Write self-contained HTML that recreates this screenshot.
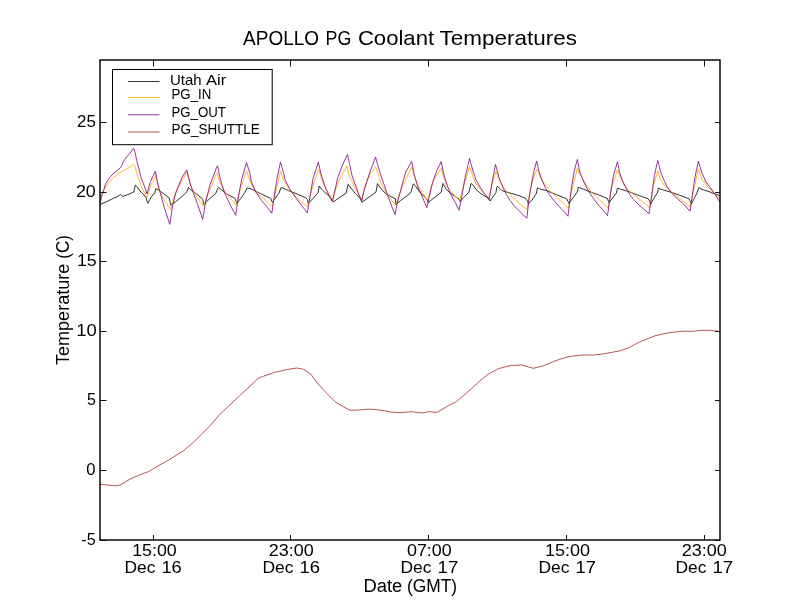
<!DOCTYPE html>
<html><head><meta charset="utf-8"><title>APOLLO PG Coolant Temperatures</title>
<style>html,body{margin:0;padding:0;background:#fff;width:800px;height:600px;overflow:hidden}</style></head>
<body><div style="will-change:transform;width:800px;height:600px">
<svg width="800" height="600" viewBox="0 0 800 600" style="display:block;font-family:'Liberation Sans',sans-serif">
<rect x="0" y="0" width="800" height="600" fill="#fff"/>
<defs><clipPath id="ax"><rect x="100" y="60" width="620" height="480"/></clipPath></defs>
<g clip-path="url(#ax)" fill="none" stroke-width="0.8" stroke-linejoin="round" stroke-linecap="butt">
<polyline stroke="#a52a2a" points="99.00,484.20 106.70,485.00 116.70,485.80 120.00,485.00 130.00,479.20 140.00,474.70 148.30,471.70 158.30,465.80 170.00,459.20 183.30,450.80 193.30,442.50 200.00,435.80 210.00,425.80 220.00,414.20 233.30,401.70 246.70,389.20 258.30,378.30 263.30,376.30 275.00,372.20 286.70,369.70 296.70,368.00 303.30,369.20 310.80,374.20 318.30,384.20 326.70,393.30 335.00,401.70 343.30,406.70 350.00,410.30 358.30,410.00 368.30,409.20 375.00,409.50 383.30,410.50 391.70,412.20 400.00,412.70 411.70,411.70 421.70,413.00 429.20,411.70 436.70,412.50 446.70,406.70 456.70,401.30 470.00,390.00 480.00,380.80 488.30,374.20 498.30,368.70 510.00,365.50 521.70,365.00 533.30,368.30 543.30,365.80 553.30,361.70 560.00,359.20 566.70,357.20 575.00,355.80 583.30,355.00 595.00,355.00 606.70,353.30 620.00,350.80 628.30,348.00 638.30,342.50 646.70,339.20 655.00,335.80 670.00,332.50 683.30,331.20 693.30,331.30 700.00,330.30 710.00,330.30 721.00,331.70"/>
<polyline stroke="#000" points="99.50,204.60 100.40,204.40 102.00,203.60 106.00,202.00 110.00,200.00 114.00,197.90 116.50,197.25 119.00,195.50 120.40,194.25 122.25,196.25 124.00,196.00 128.00,194.50 131.50,193.00 133.75,192.00 134.50,189.00 135.25,185.25 137.00,186.75 140.00,191.00 144.00,195.00 146.25,198.00 147.00,201.00 148.00,203.25 151.20,197.00 154.80,192.90 155.80,188.80 158.40,189.80 169.20,198.00 170.80,205.30 173.90,203.20 182.00,196.50 187.20,191.50 188.30,187.40 190.30,189.40 195.50,193.10 202.70,199.30 203.80,204.40 206.90,201.30 216.00,193.10 217.60,189.00 218.60,187.40 221.20,189.50 226.40,193.60 234.70,198.30 236.20,201.40 236.70,203.50 240.90,198.30 245.00,192.10 247.00,188.00 250.00,188.50 253.20,190.00 260.40,193.60 270.70,198.30 272.30,202.40 279.00,193.10 281.10,187.40 284.00,188.50 288.20,190.50 297.50,194.20 305.80,197.80 307.30,199.30 308.30,203.50 318.00,193.10 319.20,186.00 322.30,190.10 329.50,196.30 333.10,202.00 346.00,193.20 348.10,184.40 355.40,193.70 360.30,198.50 362.00,202.30 376.00,192.00 377.45,183.50 381.70,189.60 386.30,194.20 395.50,198.80 395.90,204.60 400.80,200.40 410.00,193.50 411.30,191.20 413.30,183.80 416.10,186.90 420.40,192.90 426.90,199.00 428.20,202.50 441.20,192.10 443.00,183.50 446.00,189.00 450.00,193.00 459.00,199.00 460.00,201.50 469.00,192.00 471.00,183.50 473.00,185.00 476.00,189.50 482.00,194.50 488.00,198.00 490.00,201.00 496.00,192.50 497.00,186.50 497.40,186.30 501.60,190.50 510.00,193.00 517.00,195.00 525.40,198.20 527.50,201.00 528.20,203.80 532.00,200.30 536.25,193.75 537.50,187.70 540.60,189.25 546.00,190.40 555.20,194.20 566.70,198.80 569.00,203.40 577.20,192.00 578.30,187.30 583.70,189.25 591.30,192.30 599.00,195.00 607.40,198.50 609.00,202.70 616.30,193.20 617.50,188.10 620.60,189.25 627.50,191.20 637.50,195.00 648.20,198.80 649.70,201.10 650.50,204.20 657.80,192.00 658.30,188.10 662.10,189.60 671.30,192.30 679.00,195.00 689.00,198.80 690.50,201.90 691.30,204.20 697.00,193.00 698.80,187.50 701.00,189.00 710.00,192.00 715.00,194.00 721.00,195.80"/>
<polyline stroke="#ffa500" points="99.50,205.00 100.40,202.00 101.30,197.50 103.20,192.80 104.25,189.50 107.00,185.00 110.00,181.00 113.00,177.75 117.50,174.20 121.20,171.70 126.00,169.30 130.20,166.90 133.50,164.30 134.70,165.10 138.00,177.40 142.00,188.00 145.50,195.00 147.00,197.50 151.20,184.60 155.80,175.30 158.40,188.80 163.60,199.10 170.80,209.40 173.90,197.00 182.00,180.50 187.20,171.40 190.30,184.80 195.50,195.10 203.80,206.50 207.90,194.10 212.00,184.80 216.00,174.50 217.10,173.00 220.20,182.80 224.30,191.10 230.50,198.30 236.20,205.50 239.80,191.10 246.50,170.90 250.00,180.70 252.10,185.90 258.30,194.20 265.60,200.40 272.30,206.60 275.90,191.10 280.50,170.90 284.00,180.70 286.10,184.90 292.30,193.10 299.60,200.40 307.80,207.10 310.90,193.10 314.50,181.00 318.60,169.50 322.30,180.80 327.40,191.20 332.60,200.50 336.70,186.00 340.90,176.70 347.00,166.00 349.25,176.00 357.50,192.80 361.80,199.50 365.00,186.00 370.00,174.00 375.50,167.00 377.45,172.00 380.90,182.70 384.70,190.40 389.30,197.30 395.90,205.40 398.50,196.50 402.40,186.60 409.30,172.00 411.90,167.20 414.30,176.50 417.80,185.10 423.00,193.80 427.80,200.30 430.80,188.60 435.10,177.30 441.40,168.20 444.00,178.00 448.00,188.00 453.00,194.00 459.60,200.60 463.00,188.00 469.60,166.40 473.00,177.00 476.00,184.00 481.00,190.00 488.80,198.20 492.00,184.00 496.00,171.20 499.15,180.00 503.00,186.30 507.20,191.90 513.50,198.20 520.50,204.50 527.00,209.40 529.60,192.90 532.80,179.90 536.80,169.25 538.30,172.00 541.40,178.90 545.20,185.00 551.30,191.90 558.20,198.80 564.40,204.20 568.50,208.40 572.50,187.30 577.40,168.10 579.10,172.00 582.10,178.10 586.00,185.00 591.30,191.90 597.50,198.10 603.60,203.40 608.40,208.40 611.70,187.30 617.50,169.80 620.60,178.10 624.40,185.00 629.80,191.20 636.00,196.50 642.80,201.90 649.70,207.70 652.60,188.50 657.80,171.00 660.60,179.70 665.20,186.60 671.30,191.90 679.00,198.10 685.10,202.70 690.20,206.90 694.00,188.00 698.30,169.50 702.00,179.00 707.00,186.00 713.00,192.00 721.00,199.80"/>
<polyline stroke="#800080" points="99.50,205.00 100.40,202.00 101.20,197.20 102.40,193.20 104.00,189.20 105.50,184.00 108.00,180.00 111.00,176.00 114.00,173.00 117.60,170.20 120.60,167.50 121.80,165.40 123.60,161.20 126.00,157.90 129.60,153.70 133.50,148.30 134.70,151.00 136.80,160.60 139.20,170.20 141.00,177.40 145.00,188.00 147.00,194.00 150.10,182.60 155.30,171.20 157.40,181.50 160.50,193.90 164.60,208.40 169.80,224.40 172.90,204.30 176.00,191.90 182.00,177.40 186.70,169.80 189.30,180.70 193.40,193.10 197.60,204.40 202.70,219.40 205.80,201.30 210.00,184.80 216.00,168.80 217.60,165.70 220.20,178.70 224.30,192.10 229.50,203.50 235.70,215.30 238.80,194.20 241.90,178.70 246.50,162.60 250.00,173.50 251.10,180.70 255.20,191.10 261.40,200.40 267.60,207.60 271.80,213.30 274.90,192.10 277.40,176.60 280.50,162.10 284.00,174.50 285.10,179.70 289.20,188.00 295.40,197.30 301.60,205.50 307.30,212.80 309.90,197.30 313.00,178.70 318.30,162.20 321.20,174.60 325.40,188.10 329.50,196.30 332.40,201.50 334.70,191.20 337.80,177.70 341.90,166.40 347.30,154.70 347.50,154.50 349.50,163.50 352.10,176.00 358.70,194.00 361.75,201.40 363.20,194.00 364.60,189.00 366.90,181.25 370.00,171.90 373.10,163.75 375.50,157.00 379.75,172.00 383.20,182.00 387.00,193.50 390.90,204.20 395.10,214.60 397.00,204.20 400.10,192.70 403.10,181.20 405.80,172.00 411.70,161.30 414.30,174.70 417.80,186.90 422.10,196.40 426.90,207.70 429.10,197.30 432.50,182.50 436.90,170.40 441.20,161.70 444.00,175.00 447.00,185.00 451.00,195.00 455.00,202.00 459.00,210.30 462.00,195.00 465.00,178.00 469.50,158.50 473.00,171.00 476.00,180.00 480.00,187.00 484.00,193.00 489.20,199.50 492.00,183.00 495.50,164.50 499.85,180.00 503.00,187.70 506.50,194.70 510.00,200.30 514.20,205.90 519.10,210.80 524.00,215.70 526.90,218.20 529.00,198.30 531.75,182.10 533.90,171.25 536.60,161.10 539.10,172.00 542.10,180.40 545.20,187.30 549.00,194.20 554.40,201.10 560.50,208.00 565.10,212.60 568.00,216.30 571.30,188.50 574.25,171.00 577.40,159.30 579.80,172.00 582.90,179.70 586.00,186.60 589.00,191.90 593.60,198.80 599.00,205.70 604.40,211.90 607.50,215.70 610.50,193.20 613.40,175.70 617.50,161.70 619.45,172.00 622.10,179.70 625.20,186.60 629.00,193.50 633.60,199.60 639.00,205.00 645.10,210.30 649.00,213.80 652.00,194.30 654.30,175.70 657.80,160.50 660.60,172.00 663.70,179.70 667.50,187.30 671.30,192.70 677.50,198.80 683.60,204.20 690.00,211.20 692.80,192.00 695.00,177.00 698.30,161.20 702.00,173.00 706.00,182.00 712.00,190.00 721.00,203.80"/>
</g>
<rect x="100" y="60" width="620" height="480" fill="none" stroke="#000" stroke-width="1.45"/>
<path d="M153.5,540V535M153.5,60V66.5M290.5,540V535M290.5,60V66.5M428.5,540V535M428.5,60V66.5M566.5,540V535M566.5,60V66.5M704.5,540V535M704.5,60V66.5M100,540.50H106.5M720,540.50H715M100,470.50H106.5M720,470.50H715M100,400.50H106.5M720,400.50H715M100,331.50H106.5M720,331.50H715M100,261.50H106.5M720,261.50H715M100,192.50H106.5M720,192.50H715M100,122.50H106.5M720,122.50H715" stroke="#111" stroke-width="1" fill="none"/>
<rect x="112.5" y="69.5" width="159.7" height="75.2" fill="#fff" stroke="#000" stroke-width="1"/>
<path d="M128,81.5H159.5" stroke="#000" stroke-width="0.8"/>
<path d="M128,97.5H159.5" stroke="#ffa500" stroke-width="0.8"/>
<path d="M128,114.8H159.5" stroke="#800080" stroke-width="0.8"/>
<path d="M128,132H159.5" stroke="#a52a2a" stroke-width="0.8"/>
<text transform="translate(243.10,44.80) scale(0.9425,1)" font-size="20.14" fill="#000">APOLLO</text>
<text transform="translate(325.57,44.80) scale(0.8851,1)" font-size="20.14" fill="#000">PG</text>
<text transform="translate(357.89,44.80) scale(1.0982,1)" font-size="20.14" fill="#000">Coolant</text>
<text transform="translate(439.55,44.80) scale(1.1161,1)" font-size="20.14" fill="#000">Temperatures</text>
<text transform="translate(363.38,591.90) scale(1.0502,1)" font-size="17.54" fill="#000">Date</text>
<text transform="translate(406.96,591.90) scale(0.9902,1)" font-size="17.54" fill="#000">(GMT)</text>
<text transform="translate(69.00,365.11) rotate(-90) scale(1.0236,1)" font-size="17.68" fill="#000">Temperature</text>
<text transform="translate(69.00,258.73) rotate(-90) scale(0.9664,1)" font-size="17.68" fill="#000">(C)</text>
<text transform="translate(132.13,556.00) scale(1.0253,1)" font-size="17.39" fill="#000">15:00</text>
<text transform="translate(124.45,572.80) scale(1.0121,1)" font-size="17.25" fill="#000">Dec</text>
<text transform="translate(161.44,572.80) scale(1.0601,1)" font-size="17.25" fill="#000">16</text>
<text transform="translate(268.80,556.00) scale(1.0331,1)" font-size="17.39" fill="#000">23:00</text>
<text transform="translate(262.50,572.80) scale(1.0121,1)" font-size="17.25" fill="#000">Dec</text>
<text transform="translate(299.52,572.80) scale(1.0718,1)" font-size="17.25" fill="#000">16</text>
<text transform="translate(406.98,556.00) scale(1.0288,1)" font-size="17.39" fill="#000">07:00</text>
<text transform="translate(400.50,572.80) scale(1.0121,1)" font-size="17.25" fill="#000">Dec</text>
<text transform="translate(437.51,572.80) scale(1.0827,1)" font-size="17.25" fill="#000">17</text>
<text transform="translate(544.96,556.00) scale(1.0364,1)" font-size="17.39" fill="#000">15:00</text>
<text transform="translate(538.50,572.80) scale(1.0121,1)" font-size="17.25" fill="#000">Dec</text>
<text transform="translate(575.53,572.80) scale(1.0650,1)" font-size="17.25" fill="#000">17</text>
<text transform="translate(681.80,556.00) scale(1.0331,1)" font-size="17.39" fill="#000">23:00</text>
<text transform="translate(675.45,572.80) scale(1.0121,1)" font-size="17.25" fill="#000">Dec</text>
<text transform="translate(712.40,572.80) scale(1.0887,1)" font-size="17.25" fill="#000">17</text>
<text transform="translate(81.25,544.65) scale(0.9764,1)" font-size="16.56" fill="#000">-5</text>
<text transform="translate(86.33,474.75) scale(1.0114,1)" font-size="16.48" fill="#000">0</text>
<text transform="translate(87.06,404.65) scale(0.9521,1)" font-size="16.76" fill="#000">5</text>
<text transform="translate(76.35,335.75) scale(1.1011,1)" font-size="16.76" fill="#000">10</text>
<text transform="translate(76.98,265.75) scale(1.0788,1)" font-size="16.48" fill="#000">15</text>
<text transform="translate(75.90,196.75) scale(1.0704,1)" font-size="16.76" fill="#000">20</text>
<text transform="translate(76.98,126.75) scale(1.0018,1)" font-size="16.90" fill="#000">25</text>
<text transform="translate(170.05,85.00) scale(1.0332,1)" font-size="14.49" fill="#000">Utah</text>
<text transform="translate(206.00,85.00) scale(1.1405,1)" font-size="14.49" fill="#000">Air</text>
<text transform="translate(171.44,98.90) scale(0.9311,1)" font-size="14.28" fill="#000">PG_IN</text>
<text transform="translate(171.44,116.70) scale(0.9437,1)" font-size="14.06" fill="#000">PG_OUT</text>
<text transform="translate(171.42,133.70) scale(0.9603,1)" font-size="14.06" fill="#000">PG_SHUTTLE</text>
</svg>
</div></body></html>
